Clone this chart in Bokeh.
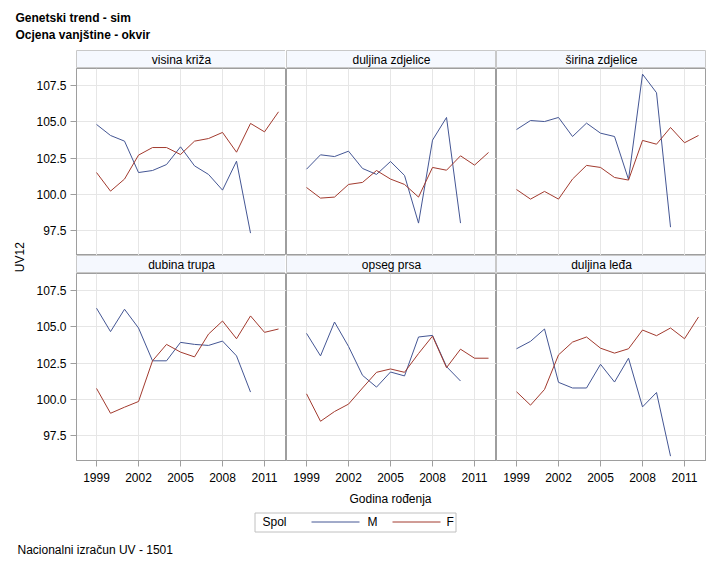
import math
from bokeh.plotting import figure
from bokeh.layouts import row, column
from bokeh.models import Range1d, FixedTicker, PrintfTickFormatter, Label
from bokeh.core.properties import value
from bokeh.embed import file_html
from bokeh.resources import INLINE

# ---------------- data ----------------
years_m = [1999, 2000, 2001, 2002, 2003, 2004, 2005, 2006, 2007, 2008, 2009, 2010]
years_f = [1999, 2000, 2001, 2002, 2003, 2004, 2005, 2006, 2007, 2008, 2009, 2010, 2011, 2012]

traits = ["visina križa", "duljina zdjelice", "širina zdjelice",
          "dubina trupa", "opseg prsa", "duljina leđa"]

m_visina_kriza = [104.82, 104.06, 103.67, 101.51, 101.65, 102.06, 103.28, 101.97, 101.38, 100.30, 102.29, 97.34]
m_duljina_zdjelice = [101.74, 102.73, 102.61, 102.98, 101.79, 101.38, 102.27, 101.31, 98.03, 103.74, 105.30, 98.03]
m_sirina_zdjelice = [104.47, 105.09, 105.02, 105.30, 103.99, 104.91, 104.22, 103.99, 101.03, 108.28, 107.00, 97.75]
m_dubina_trupa = [106.28, 104.67, 106.21, 104.92, 102.66, 102.66, 103.93, 103.79, 103.72, 104.02, 103.00, 100.51]
m_opseg_prsa = [104.55, 103.00, 105.33, 103.65, 101.66, 100.85, 101.89, 101.62, 104.30, 104.41, 102.26, 101.27]
m_duljina_leda = [103.49, 104.00, 104.85, 101.18, 100.79, 100.79, 102.42, 101.20, 102.84, 99.49, 100.48, 96.10]

f_visina_kriza = [101.51, 100.23, 101.06, 102.71, 103.23, 103.23, 102.75, 103.67, 103.85, 104.27, 102.91, 104.89, 104.31, 105.69]
f_duljina_zdjelice = [100.48, 99.75, 99.82, 100.69, 100.83, 101.65, 101.06, 100.69, 99.82, 101.86, 101.67, 102.66, 102.02, 102.89]
f_sirina_zdjelice = [100.34, 99.68, 100.21, 99.68, 101.06, 102.00, 101.86, 101.17, 100.99, 103.72, 103.46, 104.61, 103.56, 104.06]
f_dubina_trupa = [100.76, 99.05, 99.47, 99.86, 102.66, 103.79, 103.26, 102.93, 104.50, 105.40, 104.18, 105.75, 104.62, 104.85]
f_opseg_prsa = [100.39, 98.50, 99.17, 99.68, 100.79, 101.87, 102.10, 101.87, 103.16, 104.36, 102.19, 103.46, 102.84, 102.84]
f_duljina_leda = [100.53, 99.61, 100.69, 103.07, 103.95, 104.30, 103.53, 103.19, 103.49, 104.78, 104.39, 104.92, 104.18, 105.68]

x_ticks = [1999, 2002, 2005, 2008, 2011]
y_ticks = [97.5, 100.0, 102.5, 105.0, 107.5]

title_lines = ["Genetski trend - sim", "Ocjena vanjštine - okvir"]
x_label = "Godina rođenja"
y_label = "UV12"
legend_title = "Spol"
series_names = ["M", "F"]
footnote = "Nacionalni izračun UV - 1501"

m_series = [m_visina_kriza, m_duljina_zdjelice, m_sirina_zdjelice,
            m_dubina_trupa, m_opseg_prsa, m_duljina_leda]
f_series = [f_visina_kriza, f_duljina_zdjelice, f_sirina_zdjelice,
            f_dubina_trupa, f_opseg_prsa, f_duljina_leda]

# ---------------- style ----------------
FONT = "Liberation Sans"
BLUE = "#445694"
RED = "#A23A2E"
BORDER = "#9E9E9E"
GRID = "#E6E6E6"
HDR_FILL = "#F5F8FE"
HDR_LINE = "#C8C8C8"
FW = 210
FH = 187
HH = 18
LEFT_AXIS = 42
BOTTOM_AXIS = 26
XR = (1997.57, 2012.57)
YR = (95.80, 108.67)
TITLE_H = 50
LEFT_W = 33
BOT_W = 718
BOT_H = 78


def blank(width, height):
    p = figure(width=width, height=height, output_backend="svg", toolbar_location=None,
               x_range=Range1d(0, width), y_range=Range1d(0, height),
               x_axis_location=None, y_axis_location=None, min_border=0)
    p.grid.visible = False
    p.outline_line_color = None
    return p


def label(p, x, y, text, **kw):
    opts = dict(text_font=FONT, text_font_size="12px", text_color="#000000",
                text_baseline="middle")
    opts.update(kw)
    p.add_layout(Label(x=x, y=y, text=text, **opts))


def header(name, left):
    p = figure(frame_width=FW, frame_height=HH, output_backend="svg", toolbar_location=None,
               x_range=Range1d(0, 1), y_range=Range1d(0, 1),
               x_axis_location=None, y_axis_location=None,
               min_border_left=left, min_border_right=0, min_border_top=0, min_border_bottom=0)
    p.grid.visible = False
    p.background_fill_color = HDR_FILL
    p.outline_line_color = HDR_LINE
    p.text(x=[0.5], y=[0.5], text=[name], text_align="center", text_baseline="middle",
           text_font=value(FONT), text_font_size="12px", text_color="#000000")
    return p


def panel(i, left_axis, bottom_axis):
    p = figure(frame_width=FW, frame_height=FH, output_backend="svg", toolbar_location=None,
               x_range=Range1d(*XR), y_range=Range1d(*YR),
               x_axis_location="below" if bottom_axis else None,
               y_axis_location="left" if left_axis else None,
               min_border_left=LEFT_AXIS if left_axis else 0,
               min_border_right=0, min_border_top=0,
               min_border_bottom=BOTTOM_AXIS if bottom_axis else 0)
    p.outline_line_color = BORDER
    p.outline_line_width = 1
    p.xgrid.ticker = FixedTicker(ticks=x_ticks)
    p.ygrid.ticker = FixedTicker(ticks=y_ticks)
    p.grid.grid_line_color = GRID
    p.grid.grid_line_width = 1
    for ax in p.axis:
        ax.axis_line_color = BORDER
        ax.major_tick_line_color = BORDER
        ax.major_tick_in = 0
        ax.major_tick_out = 6
        ax.minor_tick_line_color = None
        ax.major_label_text_font = FONT
        ax.major_label_text_font_size = "12px"
        ax.major_label_text_color = "#000000"
    if bottom_axis:
        p.xaxis.ticker = FixedTicker(ticks=x_ticks)
        p.xaxis.formatter = PrintfTickFormatter(format="%d")
        p.xaxis.major_label_standoff = 6
    if left_axis:
        p.yaxis.ticker = FixedTicker(ticks=y_ticks)
        p.yaxis.formatter = PrintfTickFormatter(format="%.1f")
        p.yaxis.major_label_standoff = 4
    p.line(years_m, m_series[i], line_color=BLUE, line_width=1)
    p.line(years_f, f_series[i], line_color=RED, line_width=1)
    return p


cols = []
for c in range(3):
    left = LEFT_AXIS if c == 0 else 0
    cols.append(column(header(traits[c], left), panel(c, c == 0, False),
                       header(traits[c + 3], left), panel(c + 3, c == 0, True)))

# title figure
tf = blank(BOT_W, TITLE_H)
label(tf, 15, TITLE_H - 17, title_lines[0], text_font_style="bold")
label(tf, 15, TITLE_H - 34, title_lines[1], text_font_style="bold")

# y label figure
GRID_H = 2 * (FH + HH)
lf = blank(LEFT_W, GRID_H)
label(lf, 19, GRID_H - 206.7, y_label, angle=math.pi / 2, text_align="center")

# bottom figure: x label, legend (frame, title, swatches, labels), footnote
bf = blank(BOT_W, BOT_H)
label(bf, 390, BOT_H - 12, x_label, text_align="center")
label(bf, 17, BOT_H - 63, footnote)
LEG_Y = BOT_H - 35.5
bf.quad(left=[254.5], right=[455.5], bottom=[BOT_H - 45.5], top=[BOT_H - 26.5],
        fill_color="white", line_color="#C0C0C0", line_width=1)
label(bf, 262, LEG_Y, legend_title)
bf.segment(x0=[311, 392], x1=[359, 440], y0=[LEG_Y, LEG_Y], y1=[LEG_Y, LEG_Y],
           line_color=[BLUE, RED], line_width=1)
label(bf, 367, LEG_Y, series_names[0])
label(bf, 446, LEG_Y, series_names[1])

layout = column(tf, row(lf, *cols), bf)

open("out.html", "w").write(file_html(layout, INLINE))
